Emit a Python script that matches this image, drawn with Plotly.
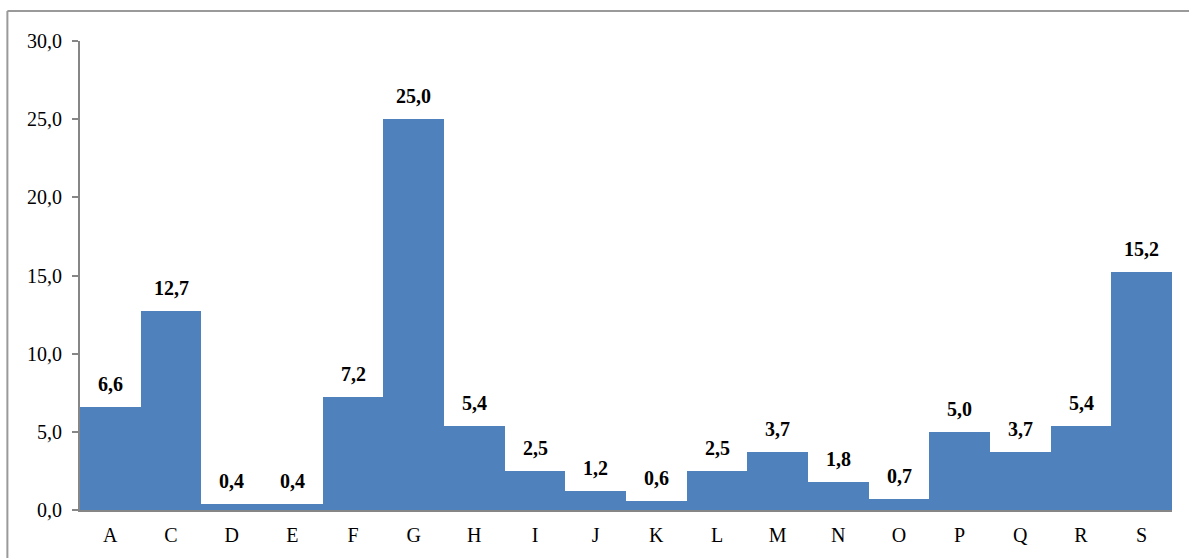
import plotly.graph_objects as go

categories = ["A", "C", "D", "E", "F", "G", "H", "I", "J", "K", "L", "M", "N", "O", "P", "Q", "R", "S"]
values = [6.6, 12.7, 0.4, 0.4, 7.2, 25.0, 5.4, 2.5, 1.2, 0.6, 2.5, 3.7, 1.8, 0.7, 5.0, 3.7, 5.4, 15.2]
y_ticks = [0, 5, 10, 15, 20, 25, 30]

FONT = "Liberation Serif"

fig = go.Figure()
fig.add_trace(go.Bar(
    x=categories, y=values,
    marker=dict(color="#4F81BD", line=dict(width=0)),
    hoverinfo="skip",
))

for c, v in zip(categories, values):
    fig.add_annotation(
        x=c, y=v, text="<b>" + f"{v:.1f}".replace(".", ",") + "</b>",
        showarrow=False, yanchor="bottom", yshift=10,
        font=dict(family=FONT, size=20, color="#000000"),
    )

border = dict(color="#9A9A9A", width=2)
fig.update_layout(
    width=1189, height=558,
    margin=dict(l=80, r=17, t=41, b=46),
    paper_bgcolor="white", plot_bgcolor="white",
    bargap=0,
    separators=",.",
    showlegend=False,
    font=dict(family=FONT, size=20, color="#000000"),
    shapes=[
        dict(type="line", xref="paper", yref="paper",
             x0=-0.0665, x1=1.05, y0=1.0637, y1=1.0637, line=border, layer="below"),
        dict(type="line", xref="paper", yref="paper",
             x0=-0.0665, x1=-0.0665, y0=-0.12, y1=1.0637, line=border, layer="below"),
    ],
)
fig.update_xaxes(
    showline=True, linecolor="#868686", linewidth=2,
    ticks="", showgrid=False, ticklabelstandoff=6,
    tickfont=dict(family=FONT, size=20),
)
fig.update_yaxes(
    range=[0, 30], tickvals=y_ticks, tickformat=".1f",
    showline=True, linecolor="#868686", linewidth=2,
    ticks="outside", ticklen=6, tickcolor="#868686", tickwidth=2,
    showgrid=False, zeroline=False, ticklabelstandoff=6,
    tickfont=dict(family=FONT, size=20),
)

fig.write_html("out.html", config={"displayModeBar": False},
               post_script="document.body.style.margin='0';")
